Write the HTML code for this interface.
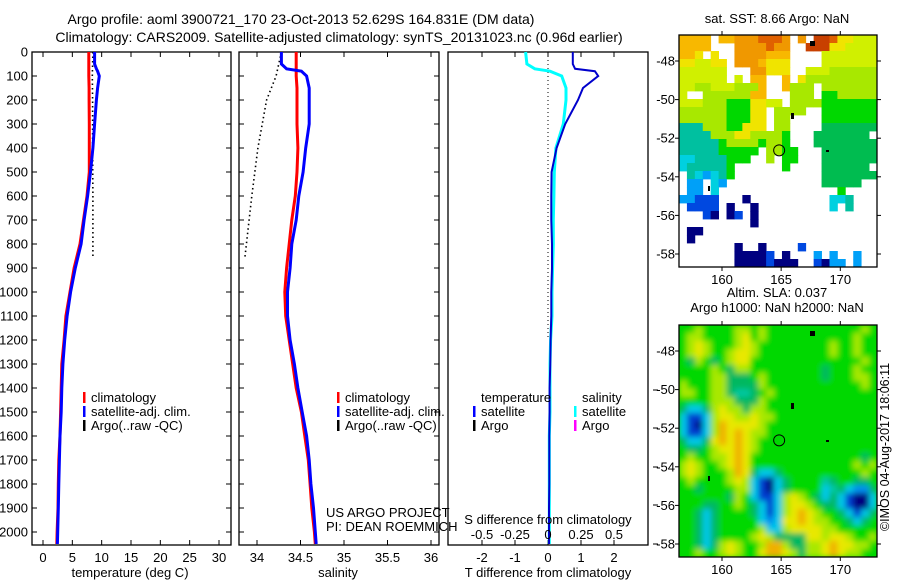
<!DOCTYPE html>
<html><head><meta charset="utf-8">
<style>
html,body{margin:0;padding:0;background:#fff;}
svg{display:block;font-family:"Liberation Sans",sans-serif;}
text{fill:#000;}
</style></head>
<body>
<svg id="chart" width="900" height="580" viewBox="0 0 900 580" xmlns="http://www.w3.org/2000/svg">
<defs>
<filter id="soft" x="-5%" y="-5%" width="110%" height="110%"><feGaussianBlur stdDeviation="3"/></filter>
<clipPath id="clipSla"><rect x="679" y="325" width="198" height="232"/></clipPath>
</defs>
<text x="301" y="24" font-size="14" text-anchor="middle">Argo profile: aoml 3900721_170 23-Oct-2013 52.629S 164.831E (DM data)</text>
<text x="339" y="42" font-size="14" text-anchor="middle">Climatology: CARS2009. Satellite-adjusted climatology: synTS_20131023.nc (0.96d earlier)</text>
<g id="g1"></g>
<g id="g2"></g>
<g id="g3"></g>
<g id="m1"></g>
<g id="m2"></g>
<text transform="translate(889,447) rotate(-90)" font-size="12.5" text-anchor="middle">©IMOS 04-Aug-2017 18:06:11</text>
</svg>
<script>
const depths = [0,50,70,80,100,150,200,300,400,500,600,700,800,900,1000,1100,1200,1300,1400,1500,1600,1700,1800,1900,2000,2050];
const tempClim = [7.8,7.8,7.8,7.8,7.8,7.85,7.85,7.9,7.9,7.9,7.5,6.9,6.3,5.3,4.6,3.9,3.6,3.2,3.1,3.0,2.9,2.7,2.6,2.55,2.4,2.35];
const tempSat = [8.8,8.8,9.1,9.3,9.6,9.3,9.1,8.8,8.5,8.1,7.6,7.0,6.5,5.5,4.7,4.1,3.7,3.4,3.2,3.1,2.9,2.8,2.7,2.6,2.5,2.45];
const argoDepths = [0,100,200,400,600,860];
const argoTemp = [8.5,8.4,8.45,8.45,8.5,8.5];
const salClim = [34.45,34.45,34.45,34.45,34.45,34.46,34.46,34.46,34.47,34.46,34.44,34.40,34.37,34.34,34.32,34.33,34.37,34.41,34.45,34.51,34.55,34.59,34.61,34.63,34.66,34.67];
const salSat = [34.28,34.28,34.34,34.51,34.57,34.60,34.60,34.60,34.56,34.53,34.48,34.45,34.40,34.38,34.35,34.35,34.38,34.43,34.47,34.52,34.57,34.60,34.62,34.65,34.67,34.68];
const argoSal = [34.28,34.22,34.11,34.01,33.94,33.86];
const tDiff = [0.75,0.75,0.82,1.42,1.52,1.06,0.91,0.52,0.26,0.11,0.1,0.1,0.12,0.12,0.1,0.1,0.08,0.07,0.05,0.05,0.04,0.04,0.04,0.03,0.03,0.03];
const sDiff = [-0.17,-0.16,-0.10,0.015,0.104,0.136,0.136,0.116,0.06,0.048,0.045,0.04,0.04,0.035,0.03,0.03,0.02,0.015,0.015,0.015,0.01,0.01,0.01,0.01,0.01,0.01];
const depthTicks = [0,100,200,300,400,500,600,700,800,900,1000,1100,1200,1300,1400,1500,1600,1700,1800,1900,2000];
const tempTicks = [0,5,10,15,20,25,30];
const salTicks = [34,34.5,35,35.5,36];
const salTickLabels = ["34","34.5","35","35.5","36"];
const tdTicks = [-2,-1,0,1,2];
const sdTicks = [-0.5,-0.25,0,0.25,0.5];
const sdTickLabels = ["-0.5","-0.25","0","0.25","0.5"];
const latTicks = [-48,-50,-52,-54,-56,-58];
const lonTicks = [160,165,170];
const sstGrid = [
"oooo.ooOOOrrrO.O.RRrYYLLL",
"oooo...OOOOrOO..RRRYYLLLL",
"ooY.Y..OOOOooo....LLLLLLL",
"YYLLYY.OOOoYYY....LLLLLLL",
"LLLLLL...OOYYY..LLLllllll",
"LLLLLL.L.oo..o.Ylllllllll",
"LLllLLLlllo..olll.lllllll",
"L..lllllloo...lll.GGlllll",
"LLLlllGGGYYLL.llllGGGGGGG",
"llllllGGGYY.llll..GGGGGGG",
"llllllGGGYY.ll....GGGGGGG",
"TTTlllGGYYY.ll....ggggggg",
"TTTTlllYYllllG...ggggggg.",
"TTTTTGllllGllG...gggggggg",
"TTTTTGGGGG.llGG...ggggggg",
"CCTTTTGGG..l.GG...ggggggg",
"CTTTTTG......G....gggggg.",
".TCSCTG...........ggggggg",
".SS.CS............ggggg..",
".SS.C...............G....",
"SSBBB...N..........CCT...",
".BBBB.N..N.........C.T...",
"...BN.NB.N...............",
".........N...............",
".NN......................",
".N.......................",
".......N..N....B.........",
".......NNNNB.N...S.S..S..",
".......NNNNBNNN..BNSS.S.."];
const slaGrid = [
"GGlGGGGllGlGGGGGGGGGGGGlG",
"GllGGGGlYGlGGGGGGGGGGGlGG",
"GlYlGGGlYlGGGGGGGGGlGGlGG",
"GlYlGGlYYlGGGGGGGGGlGGlGG",
"GglGgGlYYGGGGGGGGGGGGGGlG",
"GGGGlGgllGGGGGGGGGgGGGlGG",
"GGGGllgggGlGGGGGGGgGGGllG",
"lGGGllgggglGGGGGGGGGGGGlG",
"llGGllgTTgGlGGGGGGGGGGGGG",
"GGGGlllggglGGGGGGGGGGGGGG",
"gCCglYllgllGGGGGGGGGGGGGG",
"CBBClYYllYllGGGGGGGGGGGGG",
"CBNClOYYYYlGGGGGGGGGGGGGG",
"CBBClOYOYllGGGGGGGGGGGGGG",
"gCCgYOYOYlGGGGGGGGGGGGGGG",
"GggGlYYOYlGGGGGGGGGGGGGGG",
"GlGGllYOYGGGGGGGGGGGGGGgG",
"lYlGGlYOYGGGGGGGGGGGGGlGl",
"lYlGGGlOYgCCgGGGGGGGGGGlG",
"GlGGGGlYlCBNCgGGGGTgGGggG",
"GGgGGGGllCBNCgGGGGCTgCSSg",
"GGGGGGglGCBBClYlGgCgCBNNC",
"GGGggGGlGgCBClYYlGggCBNNC",
"GGgCgGGGGgCBClYOYlGGgCBCg",
"GGgCgGGGGGCSCYYOYllGGgCgG",
"GGgCgGGGGGlCClYYYYllGGGGG",
"GGgCgGGGGlYlggggYYlYYlGGl",
"GGgCglYlGGlOOlggllYOYYllG",
"GGlGGlYlGGYOOYlgllYOYllGG"];
</script>
<script>
const NS = "http://www.w3.org/2000/svg";
function mk(parent, tag, attrs){ const e=document.createElementNS(NS,tag); for(const k in attrs) e.setAttribute(k,attrs[k]); parent.appendChild(e); return e; }
const yTop=52, yBot=545;
function yScale(d){ return yTop + d*0.24; }
function makeX(x0,x1,v0,v1){ return v=> x0 + (v-v0)/(v1-v0)*(x1-x0); }
const P1={x0:32,x1:231}, P2={x0:239,x1:439}, P3={x0:448,x1:648};
const xT = makeX(43,219,0,30);
const xS = makeX(257,431,34,36);
const xTD = makeX(548,614,0,2);
const xSD = makeX(548,614,0,0.5);
const FS=13;

function frame(g,P,name){
  const r=mk(g,'rect',{x:P.x0,y:yTop,width:P.x1-P.x0,height:yBot-yTop,fill:'none',stroke:'#000','stroke-width':1.3});
  
  
}
function line(g,xs,ds,xf,color,w,name,dash){
  let pts=[];
  for(let i=0;i<xs.length;i++) pts.push(xf(xs[i]).toFixed(1)+','+yScale(ds[i]).toFixed(1));
  const a={points:pts.join(' '),fill:'none',stroke:color,'stroke-width':w,'stroke-linejoin':'miter'};
  if(dash) {a['stroke-dasharray']=dash;}
  const p=mk(g,'polyline',a);
  
  
}
function label(g,x,y,txt,name,anchor){
  const t=mk(g,'text',{x:x,y:y,'font-size':FS,'text-anchor':anchor||'start'});
  t.textContent=txt;
  
  
  return t;
}
function xticks(g,P,ticks,labels,xf,ylab,name){
  ticks.forEach((t,i)=>{
    const x=xf(t);
    mk(g,'line',{x1:x,x2:x,y1:yTop,y2:yTop+5,stroke:'#000'});
    mk(g,'line',{x1:x,x2:x,y1:yBot,y2:yBot-5,stroke:'#000'});
    label(g,x,ylab,labels[i],name,'middle');
  });
}
function yticksInner(g,P){
  depthTicks.forEach(d=>{
    const y=yScale(d);
    mk(g,'line',{x1:P.x0,x2:P.x0+5,y1:y,y2:y,stroke:'#000'});
    mk(g,'line',{x1:P.x1,x2:P.x1-5,y1:y,y2:y,stroke:'#000'});
  });
}
function legend(g,x,y,color,txt,name){
  const r=mk(g,'rect',{x:x,y:y-10,width:2.5,height:11,fill:color});
  
  
  label(g,x+8,y,txt,name);
}

// Panel 1
const g1=document.getElementById('g1');
frame(g1,P1,'temperature-frame');
yticksInner(g1,P1);
depthTicks.forEach(d=>{ label(g1,28,yScale(d)+4.5,String(d),'depth-tick-label','end'); });
xticks(g1,P1,tempTicks,tempTicks.map(String),xT,562,'temperature-tick-label');
line(g1,argoTemp,argoDepths,xT,'#000',1.6,'argo-temperature','1.5 3');
line(g1,tempClim,depths,xT,'#ff0000',3,'climatology-temperature');
line(g1,tempSat,depths,xT,'#0000ff',3,'satellite-temperature');
legend(g1,83,402,'#ff0000','climatology','legend-climatology');
legend(g1,83,416,'#0000ff','satellite-adj. clim.','legend-satellite');
legend(g1,83,430,'#000','Argo(..raw -QC)','legend-argo');
label(g1,130,577,'temperature (deg C)','temperature-axis-title','middle');

// Panel 2
const g2=document.getElementById('g2');
frame(g2,P2,'salinity-frame');
yticksInner(g2,P2);
xticks(g2,P2,salTicks,salTickLabels,xS,562,'salinity-tick-label');
line(g2,argoSal,argoDepths,xS,'#000',1.6,'argo-salinity','1.5 3');
line(g2,salClim,depths,xS,'#ff0000',3,'climatology-salinity');
line(g2,salSat,depths,xS,'#0000ff',3,'satellite-salinity');
legend(g2,337,402,'#ff0000','climatology','legend-climatology');
legend(g2,337,416,'#0000ff','satellite-adj. clim.','legend-satellite');
legend(g2,337,430,'#000','Argo(..raw -QC)','legend-argo');
label(g2,326,517,'US ARGO PROJECT','project-credit');
label(g2,326,531,'PI: DEAN ROEMMICH','pi-credit');
label(g2,338,577,'salinity','salinity-axis-title','middle');

// Panel 3
const g3=document.getElementById('g3');
frame(g3,P3,'difference-frame');
xticks(g3,P3,tdTicks,tdTicks.map(String),xTD,562,'t-diff-tick-label');
[390,428,467,505,544].forEach(y=>{ mk(g3,'line',{x1:653,x2:658,y1:y,y2:y,stroke:'#000'}); });
mk(g3,'line',{x1:548,x2:548,y1:yTop,y2:340,stroke:'#000','stroke-width':1,'stroke-dasharray':'1 3'});
line(g3,sDiff,depths,xSD,'#00ffff',3,'salinity-difference');
line(g3,tDiff,depths,xTD,'#0000cc',2,'temperature-difference');
label(g3,481,402,'temperature','legend-temperature-heading');
legend(g3,473,416,'#0000ff','satellite','legend-t-satellite');
legend(g3,473,430,'#000','Argo','legend-t-argo');
label(g3,582,402,'salinity','legend-salinity-heading');
legend(g3,574,416,'#00ffff','satellite','legend-s-satellite');
legend(g3,574,430,'#ff00ff','Argo','legend-s-argo');
label(g3,548,524,'S difference from climatology','s-diff-axis-title','middle');
sdTicks.forEach((t,i)=>{ label(g3,xSD(t),539,sdTickLabels[i],'s-diff-tick-label','middle'); });
label(g3,548,577,'T difference from climatology','t-diff-axis-title','middle');

// Maps
const colors={R:'#c84000',r:'#e06000',O:'#f09800',o:'#f8b800',Y:'#f0e400',L:'#d0f000',l:'#a8e800',G:'#00d800',g:'#00bc50',T:'#00c0a0',C:'#00d0e0',S:'#00a0f8',B:'#0048e0',N:'#000080'};
const slaColors={G:'#00d800',g:'#00b860',l:'#a8e800',Y:'#e8e800',O:'#f0b000',T:'#00c8a0',C:'#00c8e8',S:'#0090f0',B:'#0040d0',N:'#000080'};
function drawMap(id,grid,cmap,top,title1,title2,name,smooth){
  const g=document.getElementById(id);
  const x0=679,x1=877,y0=top,y1=top+232;
  const cw=(x1-x0)/25, ch=(y1-y0)/29;
  let cg=g;
  if(smooth){
    const clip=mk(g,'g',{'clip-path':'url(#clipSla)'});
    mk(clip,'rect',{x:x0,y:y0,width:x1-x0,height:y1-y0,fill:'#00d800'});
    cg=mk(clip,'g',{filter:'url(#soft)'});
  }
  grid.forEach((row,r)=>{
    for(let c=0;c<25;c++){
      const k=row[c];
      if(!k||k==='.') continue;
      const cell=mk(cg,'rect',{x:(x0+c*cw).toFixed(2),y:(y0+r*ch).toFixed(2),width:(cw+0.4).toFixed(2),height:(ch+0.4).toFixed(2),fill:cmap[k]});
      
      
    }
  });
  const lonX=v=>722+(v-160)*11.83;
  const latY=v=>y0+26+(-48-v)*19.3;
  const f=mk(g,'rect',{x:x0,y:y0,width:x1-x0,height:y1-y0,fill:'none',stroke:'#000','stroke-width':1.3});
  
  
  latTicks.forEach(v=>{
    const y=latY(v);
    mk(g,'line',{x1:x0,x2:x0-4,y1:y,y2:y,stroke:'#000'});
    mk(g,'line',{x1:x1,x2:x1+4,y1:y,y2:y,stroke:'#000'});
    label(g,675,y+4.5,String(v),name+'-lat-label','end');
  });
  lonTicks.forEach(v=>{
    const x=lonX(v);
    mk(g,'line',{x1:x,x2:x,y1:y0,y2:y0-4,stroke:'#000'});
    mk(g,'line',{x1:x,x2:x,y1:y1,y2:y1+4,stroke:'#000'});
    label(g,x,y1+17,String(v),name+'-lon-label','middle');
  });
  const circ=mk(g,'circle',{cx:lonX(164.831),cy:latY(-52.629),r:5.5,fill:'none',stroke:'#000','stroke-width':1});
  
  
  [[810,y0+6,5,5],[791,y0+78,3,6],[826,y0+115,3,2],[708,y0+151,2,5]].forEach(b=>{
    const m=mk(g,'rect',{x:b[0],y:b[1],width:b[2],height:b[3],fill:'#000'});
    
    
  });
  if(title2){
    label(g,777,y0-28,title1,name+'-title','middle');
    label(g,777,y0-13,title2,name+'-subtitle','middle');
  } else {
    label(g,777,y0-12,title1,name+'-title','middle');
  }
}
drawMap('m1',sstGrid,colors,35,'sat. SST: 8.66 Argo: NaN',null,'sst-map',false);
drawMap('m2',slaGrid,slaColors,325,'Altim. SLA: 0.037','Argo h1000: NaN h2000: NaN','sla-map',true);
</script>
</body></html>
